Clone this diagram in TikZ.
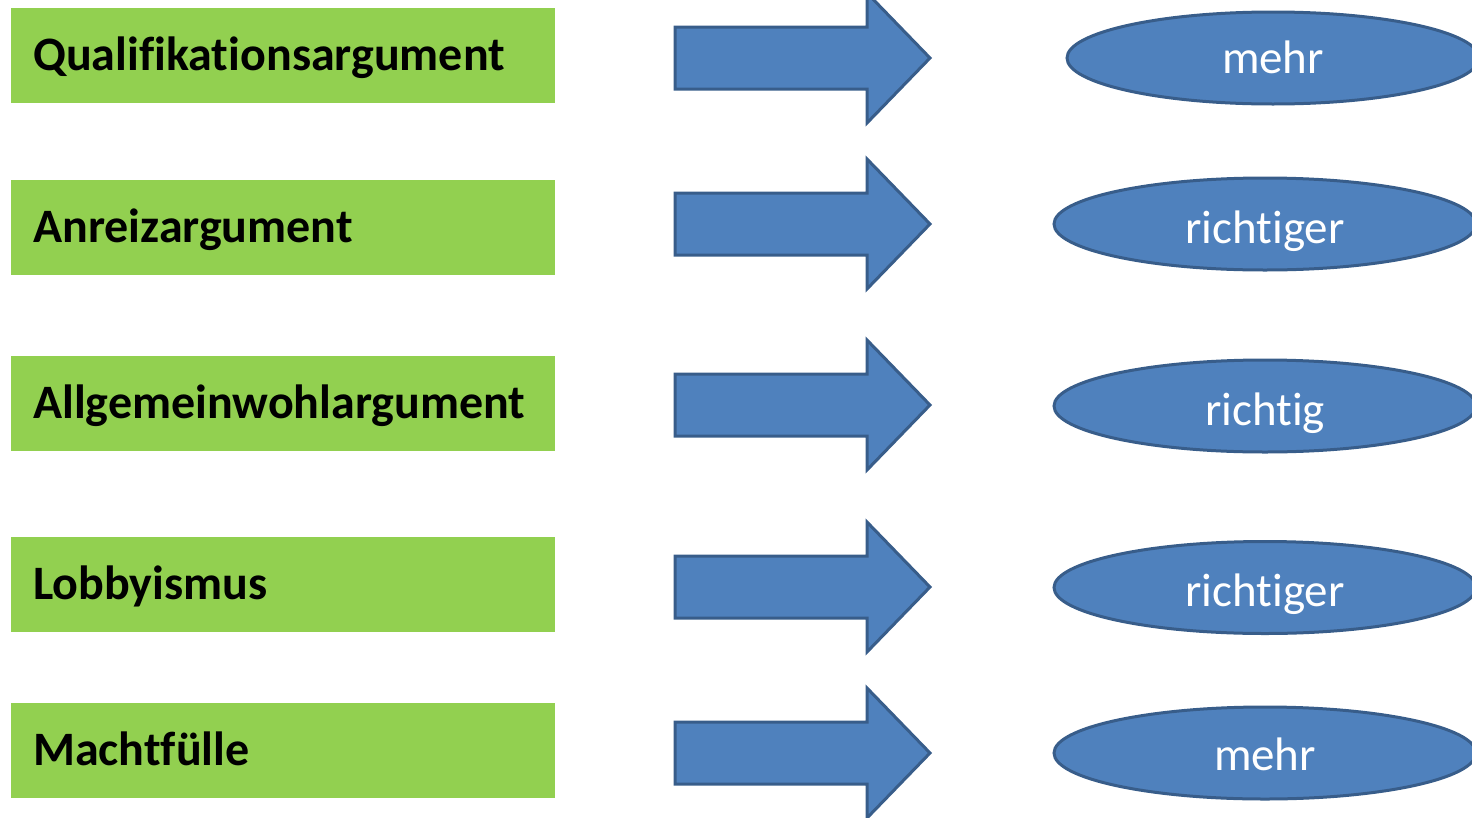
\documentclass[tikz,border=0pt]{standalone}
\usepackage{fontspec}
\setmainfont[Ligatures={NoCommon}]{Carlito}
\usetikzlibrary{shapes.geometric}
\definecolor{boxgreen}{HTML}{92D050}
\definecolor{fillblue}{HTML}{4F81BD}
\definecolor{edgeblue}{HTML}{385D8A}
\tikzstyle{argbox}=[rectangle,fill=boxgreen,anchor=west,minimum width=544pt,minimum height=95pt,text width=500pt,inner xsep=22pt,align=left,text height=30pt,text depth=0pt,font=\fontsize{48}{52}\selectfont\bfseries]
\tikzstyle{verdict}=[ellipse,fill=fillblue,draw=edgeblue,line width=3pt,minimum height=92pt,inner sep=0pt,text=white,text height=34pt,text depth=0pt,font=\fontsize{47}{52}\selectfont]
\tikzstyle{blockarrow}=[fill=fillblue,draw=edgeblue,line width=3pt,line join=miter]
\newcommand{\newarrow}[2]{% Syntax: {name}{vertical centre}
\coordinate (#1) at (675,#2);
\draw[blockarrow] (#1) ++(0,-31) -- ++(192,0) -- ++(0,-34) -- ++(63,65) -- ++(-63,65) -- ++(0,-34) -- ++(-192,0) -- cycle;
}
\begin{document}
\begin{tikzpicture}[x=1pt,y=-1pt]
	\useasboundingbox (0,0) rectangle (1472,817);
	\clip (0,0) rectangle (1472,817);
	% left column
	\node[argbox] (qual) at (11,55.5) {Qualifikationsargument};
	\node[argbox] (anreiz) at (11,227.5) {Anreizargument};
	\node[argbox] (wohl) at (11,403) {Allgemeinwohlargument};
	\node[argbox] (lobby) at (11,584.5) {Lobbyismus};
	\node[argbox] (macht) at (11,750) {Machtfülle};
	% arrows
	\newarrow{arrq}{58}
	\newarrow{arra}{224}
	\newarrow{arrw}{405}
	\newarrow{arrl}{587}
	\newarrow{arrm}{753}
	% right column
	\node[verdict,minimum width=412pt,text height=30pt] (vq) at (1273,58) {mehr};
	\node[verdict,minimum width=422pt,text height=38pt] (va) at (1265,224) {richtiger};
	\node[verdict,minimum width=422pt,text height=38pt] (vw) at (1265,406) {richtig};
	\node[verdict,minimum width=422pt,text height=38pt] (vl) at (1265,587.5) {richtiger};
	\node[verdict,minimum width=422pt] (vm) at (1265,753) {mehr};
\end{tikzpicture}
\end{document}
